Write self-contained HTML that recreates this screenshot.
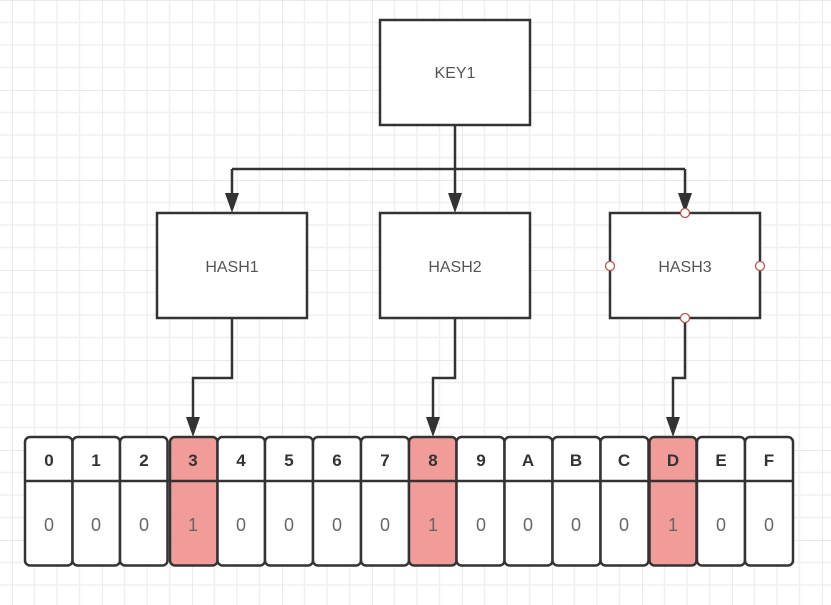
<!DOCTYPE html>
<html><head><meta charset="utf-8"><style>
html,body{margin:0;padding:0;background:#fff}
svg{display:block}
text{font-family:"Liberation Sans","DejaVu Sans",sans-serif}
</style></head><body>
<svg width="831" height="605" viewBox="0 0 831 605" xmlns="http://www.w3.org/2000/svg">
<defs>
<pattern id="g" x="12" y="0" width="90" height="90" patternUnits="userSpaceOnUse">
<path d="M22.5 0V90M45 0V90M67.5 0V90M0 22.5H90M0 45H90M0 67.5H90" stroke="#f0f0f0" stroke-width="1.5" fill="none"/>
<path d="M0 0V90M0 0H90" stroke="#e4e4e4" stroke-width="1.5" fill="none"/>
</pattern>
</defs>
<rect width="831" height="605" fill="#fff"/>
<rect width="831" height="605" fill="url(#g)"/>
<g stroke="#333" stroke-width="2.5" fill="none">
<path d="M455 125V169M232 169H685M232 169V197M455 169V197M685 169V197"/>
<path d="M232 318V378H193V421"/>
<path d="M455 318V378H433V421"/>
<path d="M685 318V378H673V421"/>
</g>
<g fill="#333">
<path d="M225 193L239 193L232 213Z"/>
<path d="M448 193L462 193L455 213Z"/>
<path d="M678 193L692 193L685 213Z"/>
<path d="M186 417L200 417L193 437Z"/>
<path d="M426 417L440 417L433 437Z"/>
<path d="M666 417L680 417L673 437Z"/>
</g>
<g stroke="#333" stroke-width="2.5" fill="#fff">
<rect x="380" y="20" width="150" height="105"/>
<rect x="157" y="213" width="150" height="105"/>
<rect x="380" y="213" width="150" height="105"/>
<rect x="610" y="213" width="150" height="105"/>
</g>
<g fill="#fff" stroke="#b85450" stroke-width="1.3">
<circle cx="685" cy="213" r="4.5"/><circle cx="685" cy="318" r="4.5"/>
<circle cx="610" cy="266" r="4.5"/><circle cx="760" cy="266" r="4.5"/>
</g>
<g font-size="16" fill="#555" text-anchor="middle">
<text x="455" y="78">KEY1</text>
<text x="232" y="272">HASH1</text>
<text x="455" y="272">HASH2</text>
<text x="685" y="272">HASH3</text>
</g>
<g stroke="#333" stroke-width="2.5">
<rect x="25" y="437" width="47.5" height="128.5" rx="5" fill="#fff"/>
<rect x="72.5" y="437" width="47.5" height="128.5" rx="5" fill="#fff"/>
<rect x="120" y="437" width="47.5" height="128.5" rx="5" fill="#fff"/>
<rect x="170" y="437" width="47.5" height="128.5" rx="5" fill="#f19c99"/>
<rect x="217.5" y="437" width="47.5" height="128.5" rx="5" fill="#fff"/>
<rect x="265" y="437" width="48" height="128.5" rx="5" fill="#fff"/>
<rect x="313" y="437" width="48" height="128.5" rx="5" fill="#fff"/>
<rect x="361" y="437" width="48" height="128.5" rx="5" fill="#fff"/>
<rect x="409" y="437" width="47.5" height="128.5" rx="5" fill="#f19c99"/>
<rect x="456.5" y="437" width="48" height="128.5" rx="5" fill="#fff"/>
<rect x="504.5" y="437" width="48" height="128.5" rx="5" fill="#fff"/>
<rect x="552.5" y="437" width="48" height="128.5" rx="5" fill="#fff"/>
<rect x="600.5" y="437" width="48" height="128.5" rx="5" fill="#fff"/>
<rect x="649.5" y="437" width="47" height="128.5" rx="5" fill="#f19c99"/>
<rect x="697" y="437" width="48" height="128.5" rx="5" fill="#fff"/>
<rect x="745" y="437" width="48" height="128.5" rx="5" fill="#fff"/>
<path d="M25 481H793" fill="none"/>
</g>
<g font-size="17" font-weight="bold" fill="#333" text-anchor="middle">
<text x="49" y="466">0</text><text x="96" y="466">1</text><text x="144" y="466">2</text><text x="193" y="466">3</text>
<text x="241" y="466">4</text><text x="289" y="466">5</text><text x="337" y="466">6</text><text x="385" y="466">7</text>
<text x="433" y="466">8</text><text x="481" y="466">9</text><text x="528" y="466">A</text><text x="576" y="466">B</text>
<text x="624" y="466">C</text><text x="673" y="466">D</text><text x="721" y="466">E</text><text x="769" y="466">F</text>
</g>
<g font-size="18" fill="#666" text-anchor="middle">
<text x="49" y="531">0</text><text x="96" y="531">0</text><text x="144" y="531">0</text><text x="193" y="531">1</text>
<text x="241" y="531">0</text><text x="289" y="531">0</text><text x="337" y="531">0</text><text x="385" y="531">0</text>
<text x="433" y="531">1</text><text x="481" y="531">0</text><text x="528" y="531">0</text><text x="576" y="531">0</text>
<text x="624" y="531">0</text><text x="673" y="531">1</text><text x="721" y="531">0</text><text x="769" y="531">0</text>
</g>
</svg>
</body></html>
